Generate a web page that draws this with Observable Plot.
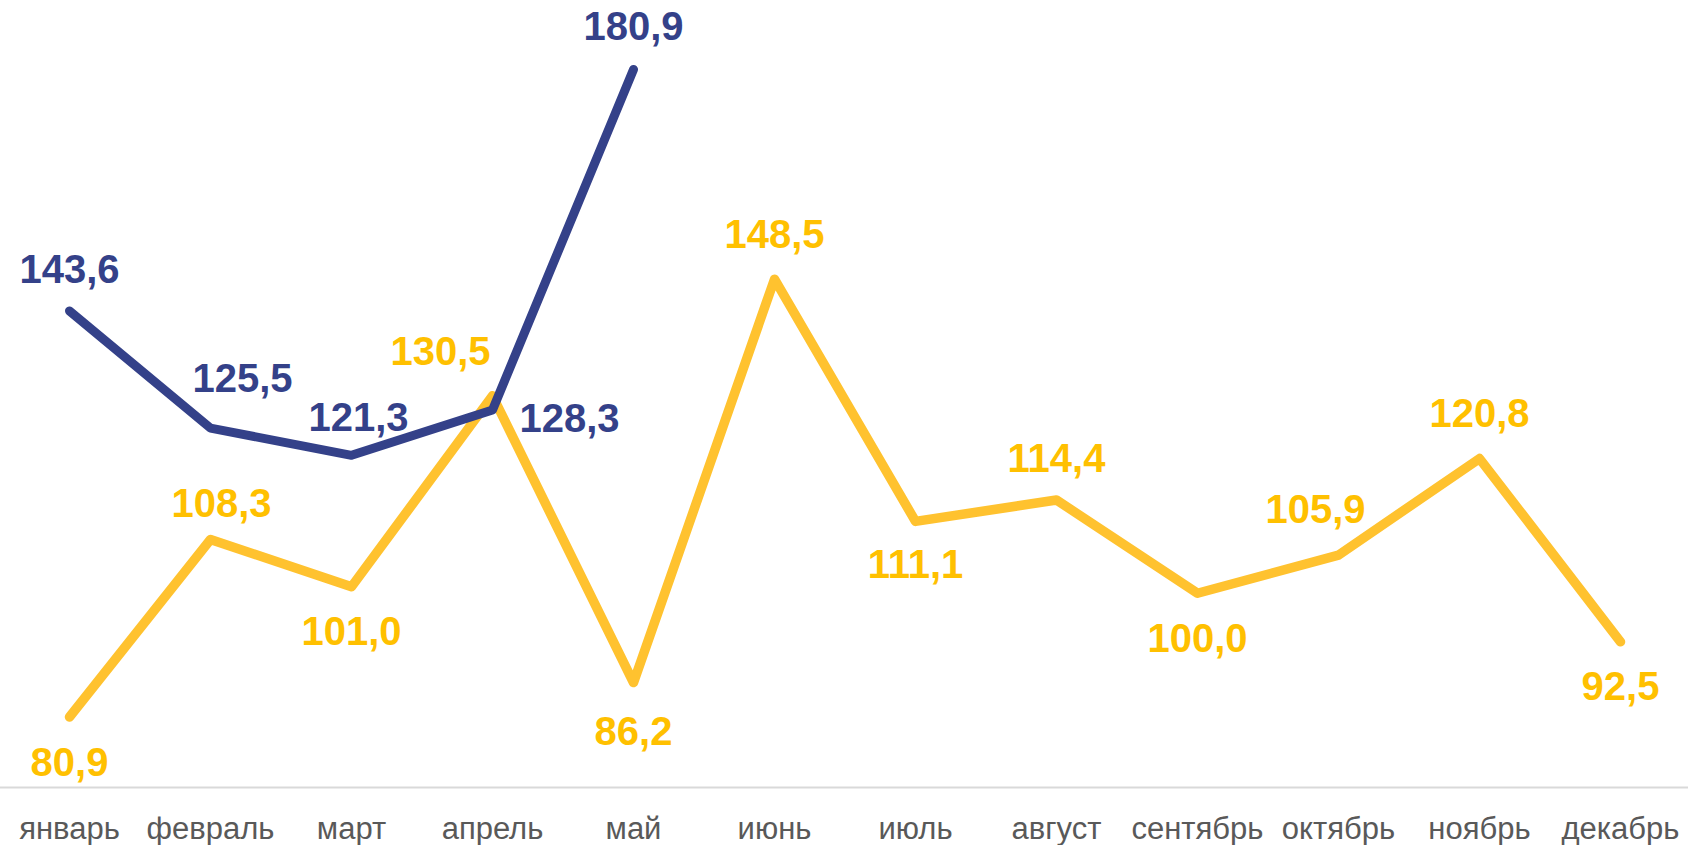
<!DOCTYPE html>
<html>
<head>
<meta charset="utf-8">
<script src="https://cdn.jsdelivr.net/npm/d3@7"></script>
<script src="https://cdn.jsdelivr.net/npm/@observablehq/plot@0.6"></script>
<style>
  html, body { margin: 0; padding: 0; background: #ffffff; }
  #chart svg { display: block; }
</style>
</head>
<body>
<div id="chart"></div>
<script>
const months = ["январь","февраль","март","апрель","май","июнь","июль","август","сентябрь","октябрь","ноябрь","декабрь"];
const yellowValues = [80.9,108.3,101.0,130.5,86.2,148.5,111.1,114.4,100.0,105.9,120.8,92.5];
const blueValues = [143.6,125.5,121.3,128.3,180.9];

// label offsets (dx, dy) relative to each point
const yellowLabelOffsets = [[0,46],[11,-35],[0,45],[-52,-44],[0,50],[0,-44],[0,44],[0,-41],[0,46],[-23,-45],[0,-44],[0,45]];
const blueLabelOffsets = [[0,-41],[32,-49],[7,-37],[77,9],[0,-42]];

const YELLOW_LINE = "#FFC22F";
const YELLOW_TEXT = "#FFC000";
const BLUE = "#344189";

const yellow = yellowValues.map((v, i) => ({month: months[i], value: v, dx: yellowLabelOffsets[i][0], dy: yellowLabelOffsets[i][1]}));
const blue = blueValues.map((v, i) => ({month: months[i], value: v, dx: blueLabelOffsets[i][0], dy: blueLabelOffsets[i][1]}));

const fmt = v => d3.format(".1f")(v).replace(".", ",");

function labels(data, fill) {
  return data.map(d => Plot.text([d], {
    x: "month", y: "value", text: d => fmt(d.value),
    dx: d.dx, dy: d.dy, fill, fontSize: 40, fontWeight: "bold"
  }));
}

const chart = Plot.plot({
  width: 1688,
  height: 845,
  marginLeft: 0,
  marginRight: 0,
  marginTop: 10,
  marginBottom: 58,
  style: {fontFamily: "'Liberation Sans', Arial, sans-serif", background: "#ffffff"},
  x: {type: "point", domain: months, range: [66, 1623], padding: 0, label: null},
  y: {domain: [70, 190], axis: null},
  marks: [
    Plot.ruleY([70], {stroke: "#D9D9D9", strokeWidth: 2}),
    Plot.axisX({tickSize: 0, tickPadding: 29, fontSize: 31, fill: "#595959", label: null}),
    Plot.line(yellow, {x: "month", y: "value", stroke: YELLOW_LINE, strokeWidth: 9.5, strokeLinecap: "round", strokeLinejoin: "round"}),
    Plot.line(blue, {x: "month", y: "value", stroke: BLUE, strokeWidth: 9, strokeLinecap: "round", strokeLinejoin: "round"}),
    ...labels(yellow, YELLOW_TEXT),
    ...labels(blue, BLUE)
  ]
});
document.getElementById("chart").appendChild(chart);
</script>
</body>
</html>
